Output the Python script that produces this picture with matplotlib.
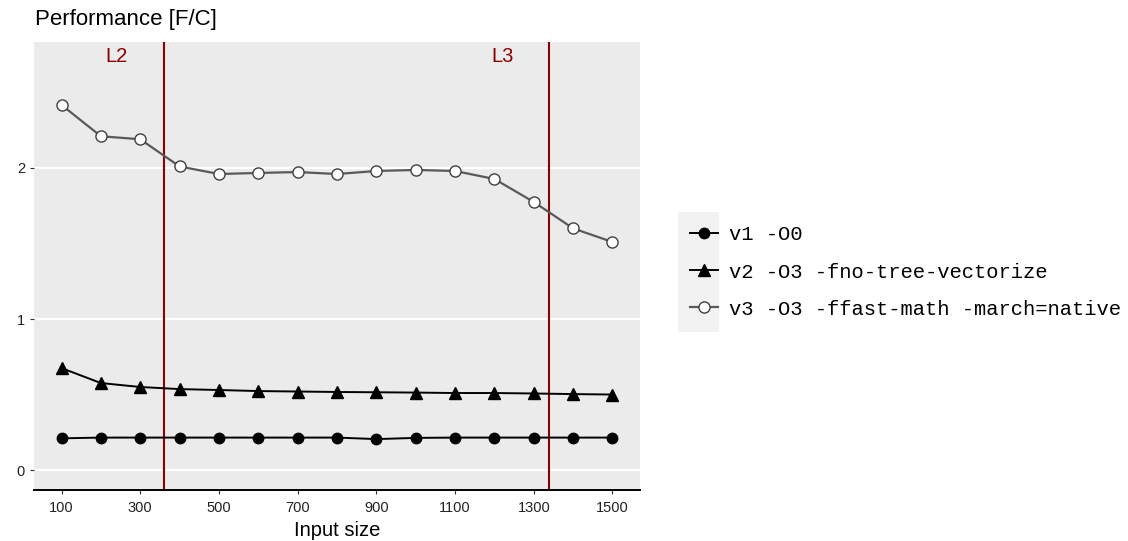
import matplotlib
matplotlib.use('Agg')
import matplotlib.pyplot as plt
from matplotlib.patches import Rectangle

plt.rcParams['font.family'] = ['Liberation Sans', 'DejaVu Sans']

# data
sizes = [100, 200, 300, 400, 500, 600, 700, 800, 900, 1000, 1100, 1200, 1300, 1400, 1500]
v1 = [0.21, 0.215, 0.215, 0.215, 0.215, 0.215, 0.215, 0.215, 0.205, 0.213, 0.215, 0.215, 0.215, 0.215, 0.215]
v2 = [0.675, 0.576, 0.55, 0.536, 0.53, 0.523, 0.52, 0.517, 0.515, 0.513, 0.51, 0.51, 0.507, 0.503, 0.50]
v3 = [2.417, 2.21, 2.19, 2.01, 1.96, 1.967, 1.973, 1.96, 1.98, 1.987, 1.98, 1.927, 1.775, 1.60, 1.51]
labels = ['v1 -O0', 'v2 -O3 -fno-tree-vectorize', 'v3 -O3 -ffast-math -march=native']
cache_x = [360, 1340]
cache_names = ['L2', 'L3']
xticks = [100, 300, 500, 700, 900, 1100, 1300, 1500]
yticks = [0, 1, 2]

fig = plt.figure(figsize=(11.28, 5.41), dpi=100)
ax = fig.add_axes([34 / 1128, 1 - 490 / 541, 606 / 1128, 448 / 541])
ax.set_facecolor('#EBEBEB')

for y in yticks:
    ax.axhline(y, color='white', lw=1.6, zorder=0)

h1, = ax.plot(sizes, v1, color='black', lw=1.4, marker='o', ms=7.5, mfc='black', mec='black', zorder=3)
h2, = ax.plot(sizes, v2, color='black', lw=1.4, marker='^', ms=9, mfc='black', mec='black', zorder=3)
h3, = ax.plot(sizes, v3, color='#595959', lw=1.6, marker='o', ms=8, mfc='white', mec='#404040', mew=1.0, zorder=3)

for cx, nm in zip(cache_x, cache_names):
    ax.axvline(cx, color='#8B0000', lw=1.5, zorder=2)
    ax.text(cx - 120, 2.74, nm, color='#8B0000', fontsize=14.5, ha='center', va='center')

ax.set_xlim(30, 1570)
ax.set_ylim(-0.132, 2.834)
ax.set_xticks(xticks)
ax.set_yticks(yticks)
ax.tick_params(axis='both', colors='#333333', labelcolor='#222222', labelsize=10.5, length=3, width=0.8)
ax.tick_params(axis='x', pad=5)
for s in ['top', 'right', 'left']:
    ax.spines[s].set_visible(False)
ax.spines['bottom'].set_color('black')
ax.spines['bottom'].set_linewidth(1.4)

ax.set_xlabel('Input size', fontsize=14.5, labelpad=4)
fig.text(35 / 1128, 1 - 20 / 541, 'Performance [F/C]', fontsize=16, ha='left', va='center')

# legend key background
fig.patches.append(Rectangle((678 / 1128, 1 - 332 / 541), 41 / 1128, 120 / 541,
                             transform=fig.transFigure, facecolor='#F2F2F2', edgecolor='none', zorder=0))
leg = fig.legend([h1, h2, h3], labels, loc='center left', bbox_to_anchor=(0.595, 1 - 272 / 541),
                 frameon=False, prop={'family': 'Liberation Mono', 'size': 14.8},
                 handlelength=1.4, handletextpad=0.5, labelspacing=0.88)

fig.savefig('out.png', dpi=100)
